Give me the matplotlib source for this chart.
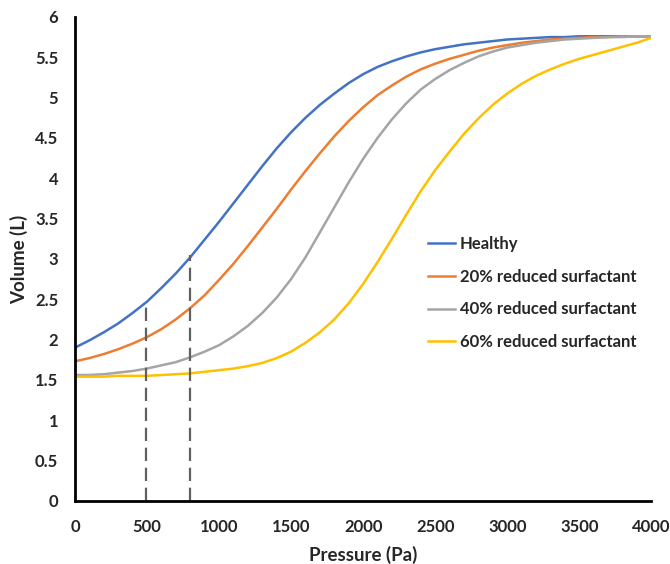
import matplotlib
matplotlib.use("Agg")
import matplotlib.pyplot as plt

pressure = list(range(0, 4001, 100))
healthy = [1.90, 1.99, 2.09, 2.20, 2.33, 2.47, 2.64, 2.82, 3.02, 3.24,
           3.46, 3.69, 3.92, 4.15, 4.37, 4.57, 4.75, 4.91, 5.05, 5.18,
           5.29, 5.38, 5.45, 5.51, 5.56, 5.60, 5.63, 5.66, 5.68, 5.70,
           5.72, 5.73, 5.74, 5.75, 5.75, 5.76, 5.76, 5.76, 5.76, 5.76, 5.76]
red20 = [1.73, 1.77, 1.82, 1.88, 1.95, 2.03, 2.13, 2.25, 2.39, 2.55,
         2.74, 2.94, 3.16, 3.39, 3.62, 3.86, 4.09, 4.31, 4.52, 4.71,
         4.88, 5.03, 5.15, 5.26, 5.35, 5.42, 5.48, 5.53, 5.58, 5.62,
         5.65, 5.68, 5.70, 5.72, 5.73, 5.74, 5.75, 5.75, 5.76, 5.76, 5.76]
red40 = [1.56, 1.56, 1.57, 1.59, 1.61, 1.64, 1.68, 1.72, 1.78, 1.85,
         1.93, 2.04, 2.17, 2.33, 2.52, 2.75, 3.02, 3.33, 3.64, 3.95,
         4.24, 4.50, 4.73, 4.93, 5.10, 5.23, 5.34, 5.43, 5.51, 5.57,
         5.62, 5.65, 5.68, 5.70, 5.72, 5.73, 5.74, 5.75, 5.75, 5.76, 5.76]
red60 = [1.54, 1.54, 1.54, 1.55, 1.55, 1.55, 1.56, 1.57, 1.58, 1.60,
         1.62, 1.64, 1.67, 1.71, 1.77, 1.85, 1.96, 2.09, 2.25, 2.45,
         2.69, 2.96, 3.25, 3.55, 3.84, 4.10, 4.33, 4.55, 4.74, 4.91,
         5.05, 5.17, 5.27, 5.35, 5.42, 5.48, 5.53, 5.58, 5.63, 5.68, 5.74]
labels = ["Healthy", "20% reduced surfactant", "40% reduced surfactant", "60% reduced surfactant"]
colors = ["#4472C4", "#ED7D31", "#A5A5A5", "#FFC000"]

marker_x = [490, 800]
marker_top = [2.47, 3.05]

yticks = [0, 0.5, 1, 1.5, 2, 2.5, 3, 3.5, 4, 4.5, 5, 5.5, 6]
ytick_labels = ["0", "0.5", "1", "1.5", "2", "2.5", "3", "3.5", "4", "4.5", "5", "5.5", "6"]
xticks = [0, 500, 1000, 1500, 2000, 2500, 3000, 3500, 4000]

plt.rcParams['font.family'] = ['Lato', 'DejaVu Sans']
plt.rcParams['font.weight'] = 'bold'

fig = plt.figure(figsize=(6.7, 5.64), dpi=100)
ax = fig.add_axes([0.112, 0.112, 0.86, 0.858])

for ys, lab, c in zip([healthy, red20, red40, red60], labels, colors):
    ax.plot(pressure, ys, color=c, lw=1.8, label=lab)

for xv, top in zip(marker_x, marker_top):
    ax.plot([xv, xv], [0, top], color="#606060", lw=1.6, ls=(0, (6, 3)))

ax.set_xlim(0, 4000)
ax.set_ylim(0, 6)
ax.set_xticks(xticks)
ax.set_yticks(yticks)
ax.set_yticklabels(ytick_labels)
ax.tick_params(length=0, labelsize=12)
ax.tick_params(axis='x', pad=13)
ax.tick_params(axis='y', pad=12)
for lab in ax.get_xticklabels() + ax.get_yticklabels():
    lab.set_fontweight('bold')
    lab.set_color('#262626')
for s in ['top', 'right']:
    ax.spines[s].set_visible(False)
for s in ['left', 'bottom']:
    ax.spines[s].set_linewidth(2)
    ax.spines[s].set_color('black')

ax.set_xlabel("Pressure (Pa)", fontsize=13.5, fontweight='bold', labelpad=8, color='#262626')
ax.set_ylabel("Volume (L)", fontsize=13.5, fontweight='bold', labelpad=5, color='#262626')

leg = ax.legend(loc='upper left', bbox_to_anchor=(0.613, 0.547), frameon=False,
                borderaxespad=0, borderpad=0,
                fontsize=12, handlelength=1.6, handletextpad=0.3, labelspacing=1.0)
for t in leg.get_texts():
    t.set_fontweight('bold')
    t.set_color('#262626')

fig.savefig("out.png", dpi=100)
